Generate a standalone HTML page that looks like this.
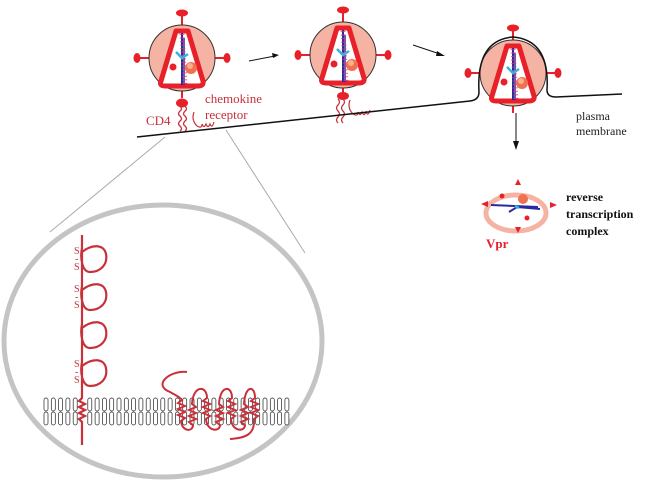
<!DOCTYPE html>
<html><head><meta charset="utf-8"><style>
html,body{margin:0;padding:0;background:#fff;}
svg{display:block;}
text{font-family:"Liberation Serif",serif;}
</style></head><body>
<svg width="647" height="483" viewBox="0 0 647 483" xmlns="http://www.w3.org/2000/svg">
<defs>
<g id="virus">
  <line x1="0" y1="-33" x2="0" y2="-43" stroke="#e8202a" stroke-width="2"/>
  <ellipse cx="0" cy="-45" rx="6" ry="3.5" fill="#e8202a"/>
  <line x1="-33" y1="0" x2="-43" y2="0" stroke="#e8202a" stroke-width="2"/>
  <ellipse cx="-45" cy="0" rx="3.5" ry="5" fill="#e8202a"/>
  <line x1="33" y1="0" x2="43" y2="0" stroke="#e8202a" stroke-width="2"/>
  <ellipse cx="45" cy="0" rx="3.5" ry="5" fill="#e8202a"/>
  <line x1="0" y1="33" x2="0" y2="40" stroke="#e8202a" stroke-width="2"/>
  <circle r="33" fill="#f5b3a3" stroke="#333" stroke-width="1"/>
  <path d="M-6,-27 L6,-27 L21,23 Q22,28 16,28 L-17,28 Q-23,28 -21,23 Z" fill="#fff" stroke="#e8202a" stroke-width="5" stroke-linejoin="round"/>
  <line x1="0" y1="-25" x2="0" y2="27" stroke="#2a2aa0" stroke-width="2"/>
  <line x1="2" y1="-20" x2="2" y2="27" stroke="#2a2aa0" stroke-width="1.5"/>
  <line x1="0" y1="-24" x2="3" y2="27" stroke="#e0306a" stroke-width="5" stroke-dasharray="1 2.5" opacity="0.8"/>
  <path d="M-6,-6 L0,0 L6,-4" stroke="#3ab0e0" stroke-width="2.5" fill="none"/>
  <circle cx="-9" cy="9" r="3.5" fill="#e8202a"/>
  <circle cx="9" cy="10" r="6" fill="#f07050"/>
  <circle cx="8" cy="8" r="3" fill="#f9b090"/>
</g>
</defs>

<use href="#virus" x="182" y="58"/>
<use href="#virus" x="343" y="55"/>
<use href="#virus" x="513" y="73"/>

<ellipse cx="182" cy="103" rx="6" ry="4.5" fill="#e8202a"/>
<ellipse cx="343" cy="96" rx="6" ry="4" fill="#e8202a"/>

<path d="M180,106 q3,3 0,5 q-3,3 0,5 q3,3 0,5 q-3,3 0,5 q3,3 0,5" stroke="#c8303a" stroke-width="1.3" fill="none"/>
<path d="M185,106 q3,3 0,5 q-3,3 0,5 q3,3 0,5 q-3,3 0,5 q3,3 0,5" stroke="#c8303a" stroke-width="1.3" fill="none"/>
<path d="M194,112 q-3,8 3,14 q5,3 5,-2 q2,5 4,0 q2,5 4,0 q2,5 4,-2" stroke="#c8303a" stroke-width="1.2" fill="none"/>
<path d="M338,99 q3,3 0,6 q-3,3 0,6 q3,3 0,6 q-3,3 0,6" stroke="#c8303a" stroke-width="1.3" fill="none"/>
<path d="M343,99 q3,3 0,6 q-3,3 0,6 q3,3 0,6 q-3,3 0,6" stroke="#c8303a" stroke-width="1.3" fill="none"/>
<path d="M350,100 q-3,8 3,14 q5,3 5,-2 q2,5 4,0 q2,5 4,0 q2,5 4,-2" stroke="#c8303a" stroke-width="1.2" fill="none"/>

<text x="146" y="125" font-size="13" fill="#c8303a">CD4</text>
<text x="205" y="103" font-size="13" fill="#c8303a">chemokine</text>
<text x="205" y="119" font-size="13" fill="#c8303a">receptor</text>

<path d="M137,137 L470,101 Q479,100 479,92 Q476,40 513,37 Q550,40 547,90 Q547,97 556,97 L622,94" stroke="#111" stroke-width="1.5" fill="none"/>
<text x="576" y="120" font-size="12" fill="#222">plasma</text>
<text x="576" y="135" font-size="12" fill="#222">membrane</text>

<line x1="249" y1="61" x2="275" y2="56" stroke="#111" stroke-width="1"/>
<path d="M279,55 L272,53 L273,58 Z" fill="#111"/>
<line x1="413" y1="45" x2="440" y2="54" stroke="#111" stroke-width="1"/>
<path d="M445,56 L437,51 L436,56 Z" fill="#111"/>
<line x1="516" y1="113" x2="516" y2="145" stroke="#111" stroke-width="1"/>
<path d="M516,150 L513,141 L519,141 Z" fill="#111"/>

<ellipse cx="516" cy="213" rx="30" ry="18" fill="#fff" stroke="#f5b3a3" stroke-width="5"/>
<path d="M518,179 l-3,6 h6 z M518,233 l-3,-6 h6 z M481,204 l7,-3 v6 z M557,205 l-7,-3 v6 z" fill="#e8202a"/>
<line x1="491" y1="205" x2="538" y2="207" stroke="#2a2aa0" stroke-width="2"/>
<path d="M509,212 L517,207 L540,209" stroke="#2a2aa0" stroke-width="2" fill="none"/>
<path d="M515,206 l4,2" stroke="#3ab0e0" stroke-width="2.5"/>
<circle cx="502" cy="196" r="2.5" fill="#e8202a"/>
<circle cx="527" cy="218" r="2.5" fill="#e8202a"/>
<circle cx="523" cy="199" r="5" fill="#f07050"/>
<text x="486" y="248" font-size="13" font-weight="bold" fill="#e8202a">Vpr</text>
<text x="566" y="201" font-size="12" font-weight="bold" fill="#111">reverse</text>
<text x="566" y="218" font-size="12" font-weight="bold" fill="#111">transcription</text>
<text x="566" y="235" font-size="12" font-weight="bold" fill="#111">complex</text>

<line x1="165" y1="137" x2="50" y2="232" stroke="#aaa" stroke-width="1"/>
<line x1="226" y1="130" x2="305" y2="253" stroke="#aaa" stroke-width="1"/>
<ellipse cx="163" cy="341" rx="159" ry="136" fill="#fff" stroke="#c4c4c4" stroke-width="5"/>

<g id="lipids" stroke="#222" stroke-width="0.7" fill="#fff"></g>

<g stroke="#c8303a" stroke-width="2.2" fill="none">
<path d="M82,235 L82,248 C80,258 82,272 90,272 C100,272 108,265 106,254 C104,244 92,244 82,252 L82,286 C80,296 82,310 90,310 C100,310 108,303 106,292 C104,282 92,282 82,290 L82,324 C80,334 82,348 90,348 C100,348 108,341 106,330 C104,320 92,320 82,328 L82,362 C80,372 82,386 90,386 C100,386 108,379 106,368 C104,358 92,358 82,366 L82,398 l-3,3 l6,3 l-6,3 l6,3 l-6,3 l6,3 l-6,3 l3,3 L82,445"/>
</g>
<g font-size="10" fill="#c8303a">
<text x="74" y="254">S</text><text x="75" y="262">-</text><text x="74" y="270">S</text>
<text x="74" y="292">S</text><text x="75" y="300">-</text><text x="74" y="308">S</text>
<text x="74" y="367">S</text><text x="75" y="375">-</text><text x="74" y="383">S</text>
</g>
<g stroke="#c8303a" stroke-width="2" fill="none">
<path d="M187,372 C170,370 152,385 170,392 C175,395 180,397 182,400 l-4,3 l7,3 l-7,3 l7,3 l-7,3 l7,3 l-4,3 C182,432 193,432 193,425 l-4,-3 l7,-3 l-7,-3 l7,-3 l-7,-3 l7,-3 l-4,-3 C193,385 207,385 207,398 l-4,3 l7,3 l-7,3 l7,3 l-7,3 l7,3 l-4,3 C207,432 220,432 220,425 l-4,-3 l7,-3 l-7,-3 l7,-3 l-7,-3 l7,-3 l-4,-3 C220,385 232,385 232,398 l-4,3 l7,3 l-7,3 l7,3 l-7,3 l7,3 l-4,3 C232,432 245,432 245,425 l-4,-3 l7,-3 l-7,-3 l7,-3 l-7,-3 l7,-3 l-4,-3 C245,385 255,385 255,398 l-4,3 l7,3 l-7,3 l7,3 l-7,3 l7,3 l-4,3 C255,435 245,438 230,439"/>
</g>
</svg>
<script>
(function(){
var g=document.getElementById('lipids');var s='';
for(var x=46;x<288;x+=7.3){
 if(Math.abs(x-82)<4) continue;
 s+='<rect x="'+(x-2)+'" y="398" width="4" height="13" rx="2"/><rect x="'+(x-2)+'" y="412" width="4" height="13" rx="2"/>';
}
g.innerHTML=s;
})();
</script>
</body></html>
